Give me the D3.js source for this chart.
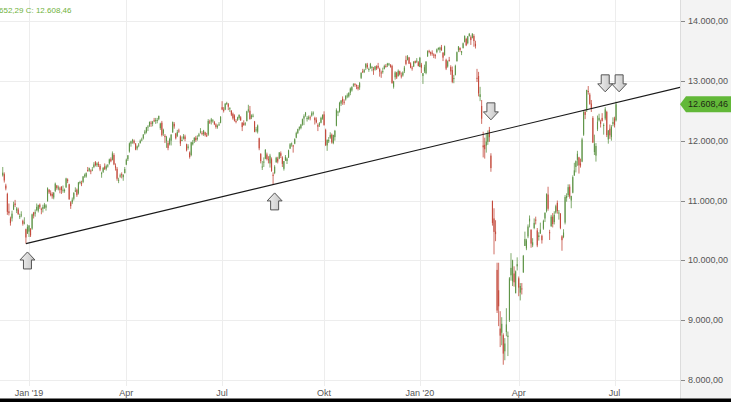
<!DOCTYPE html>
<html><head><meta charset="utf-8">
<script src="https://cdn.jsdelivr.net/npm/d3@7"></script>
<style>html,body{margin:0;padding:0;background:#fff;overflow:hidden}svg{display:block}</style>
</head><body><svg id="c" width="731" height="402"></svg>
<script>
// ---------- data ----------
const firstDay = "2018-12-03";
const lastDomainDay = "2020-09-30";
const holidays = ["2018-12-24","2018-12-25","2018-12-26","2018-12-31","2019-01-01","2019-04-19","2019-04-22","2019-05-01","2019-12-24","2019-12-25","2019-12-26","2019-12-31","2020-01-01","2020-04-10","2020-04-13","2020-05-01"];

const open = [
11420,11440,11250,11110,10820,10700,10700,10850,10950,10830,10850,10720,10760,10660,10620,10520,10450,
10480,10520,10530,10800,10780,10840,10830,10930,10860,10860,10880,10880,10990,11180,11120,11110,11050,11160,11250,11200,11200,11230,
11180,11170,11220,11350,11270,10970,10970,11030,11160,11180,11120,11300,11290,11310,11420,11400,11510,11500,11500,11510,
11560,11640,11590,11610,11580,11440,11480,11570,11530,11580,11620,11690,11680,11760,11580,11530,11330,11400,11440,11390,11460,
11600,11690,11820,11950,11990,12000,11950,11870,11920,11960,12010,12040,12120,12140,12230,12250,12300,12280,12340,12330,
12330,12360,12210,12300,12120,12080,11990,11960,11940,12000,12140,12280,12120,12080,12170,12070,12000,12040,12070,11940,11880,11800,
11760,11940,11990,12050,12040,12080,12140,12130,12110,12140,12090,12100,12320,12320,12330,12310,12270,12230,12270,12300,
12560,12520,12520,12610,12610,12540,12500,12450,12420,12330,12350,12380,12390,12300,12290,12280,12330,12500,12500,12390,12410,12320,12170,
12150,12040,11780,11560,11640,11700,11770,11690,11620,11690,11430,11460,11640,11700,11700,11790,11720,11530,11670,11660,11720,11870,
11940,11920,11950,12050,12130,12200,12210,12270,12370,12420,12360,12370,12390,12420,12460,12380,12350,12260,12260,12300,12370,
12440,12180,11920,11990,12050,12100,11960,12060,12250,12470,12490,12620,12700,12650,12690,12750,12740,12800,12840,12920,12950,12930,12900,
12890,13050,13160,13150,13220,13270,13190,13220,13230,13200,13190,13240,13250,13200,13140,13150,13200,13250,13260,13280,13260,
13250,12900,13060,13140,13080,13160,13090,13090,13160,13350,13350,13390,13290,13220,13240,13330,13320,13310,
13230,13270,13080,13160,13130,13410,13500,13480,13470,13440,13430,13480,13530,13520,13560,13470,13430,13350,13240,13350,13230,13180,
13040,13100,13330,13510,13550,13470,13550,13650,13700,13630,13750,13730,13720,13750,13620,13050,13080,12730,12580,11920,
11930,11920,11980,12180,11750,10990,10700,10480,9840,9500,8860,8790,8750,8480,8800,8720,9000,9750,9650,9780,9450,9900,
9700,9460,9530,9800,10240,10200,10400,10650,10510,10250,10540,10680,10500,10390,10450,10410,10530,10700,10820,11100,
10470,10570,10730,10640,10800,10960,10790,10780,10400,10390,10630,11040,11090,11230,11000,11130,11420,11560,11680,11720,
11620,11650,12100,12480,12510,12830,12770,12620,12380,11810,11750,12190,12340,12320,12380,12250,12370,12480,12020,12200,12060,12280,
12370,12340];
const high = [
11560,11470,11280,11130,10950,10730,10830,10980,11010,10890,10880,10780,10820,10680,10720,10530,10600,
10590,10540,10780,10810,10850,10950,10930,10950,10880,10930,10960,10940,11220,11190,11170,11140,11140,11300,11260,11250,11230,11240,
11250,11200,11380,11370,11280,10990,11050,11140,11220,11200,11310,11330,11330,11410,11450,11470,11560,11550,11520,11560,
11640,11660,11640,11650,11610,11480,11560,11620,11600,11610,11700,11720,11820,11790,11620,11560,11380,11450,11470,11440,11560,
11700,11760,11970,12000,12030,12020,11960,11920,11960,12020,12050,12110,12180,12230,12260,12320,12330,12330,12380,12380,
12380,12420,12300,12330,12200,12110,12080,12000,12050,12110,12320,12310,12130,12180,12200,12090,12070,12110,12100,11950,11940,11820,
11980,12010,12060,12080,12090,12130,12210,12160,12180,12150,12130,12360,12350,12380,12360,12330,12290,12270,12310,12410,
12660,12560,12630,12650,12630,12560,12510,12470,12440,12360,12400,12440,12410,12310,12340,12310,12500,12600,12580,12440,12450,12330,12230,
12270,12050,11790,11660,11720,11860,11800,11740,11780,11720,11470,11590,11730,11730,11810,11820,11740,11660,11760,11720,11850,11960,
11970,11930,12040,12150,12200,12240,12280,12370,12440,12480,12410,12420,12420,12490,12490,12400,12390,12290,12310,12400,12440,
12490,12200,12020,12060,12140,12120,12100,12180,12540,12500,12650,12680,12740,12690,12760,12790,12810,12890,12910,12960,12960,12940,12930,
12980,13140,13200,13200,13290,13300,13220,13300,13250,13230,13250,13260,13300,13220,13170,13220,13270,13280,13300,13300,13280,
13270,13000,13160,13150,13190,13170,13140,13160,13250,13420,13430,13400,13310,13250,13330,13340,13380,13330,
13400,13300,13130,13270,13330,13510,13520,13490,13510,13460,13450,13540,13560,13570,13600,13480,13590,13370,13340,13400,13260,13240,
13100,13270,13490,13580,13560,13500,13640,13760,13720,13750,13800,13760,13795,13780,13670,13200,13150,12900,12680,12150,
12050,12130,12170,12230,11790,11000,10870,10670,9960,9960,9150,9050,8780,8700,9200,8810,9720,10120,10010,9900,9830,10050,
9730,9620,9620,10090,10480,10360,10600,10750,10520,10370,10700,10730,10540,10470,10630,10430,10680,10800,11120,11230,
10510,10760,10790,10820,10930,11000,10840,10790,10420,10520,11090,11120,11270,11270,11080,11420,11630,11670,11830,11730,
11700,12050,12490,12520,12850,12913,12800,12680,12410,12100,11960,12420,12450,12350,12460,12290,12560,12500,12160,12270,12260,12390,
12400,12652];
const low = [
11400,11300,11170,10760,10750,10580,10650,10840,10890,10790,10760,10690,10720,10580,10600,10279,10440,
10390,10390,10510,10700,10730,10820,10800,10860,10770,10800,10860,10830,10980,11110,11070,11030,11020,11140,11180,11170,11120,11110,
11130,11130,11210,11290,11010,10860,10940,11000,11140,11060,11100,11270,11240,11290,11380,11380,11480,11480,11440,11490,
11540,11570,11560,11560,11490,11380,11460,11510,11500,11550,11600,11640,11670,11590,11500,11330,11290,11380,11370,11330,11450,
11590,11660,11800,11900,11950,11940,11840,11840,11890,11950,11990,12020,12100,12120,12160,12230,12230,12240,12310,12280,
12290,12340,12180,12070,12080,11960,11880,11840,11920,11920,12130,12200,12020,12060,12130,11910,11990,12020,11990,11820,11850,11700,
11740,11920,11960,11980,12000,12060,12120,12090,12080,12070,12060,12080,12280,12270,12300,12260,12200,12200,12250,12290,
12510,12470,12510,12600,12510,12480,12410,12350,12320,12290,12330,12350,12330,12160,12250,12250,12320,12470,12350,12360,12390,12140,12140,
12120,11840,11620,11510,11560,11690,11670,11620,11550,11480,11266,11440,11630,11620,11690,11710,11560,11500,11660,11610,11710,11860,
11900,11800,11940,12040,12110,12170,12190,12250,12260,12400,12320,12350,12340,12400,12420,12270,12290,12160,12230,12290,12350,
12250,11910,11830,11960,12030,11950,11940,12000,12240,12410,12470,12580,12600,12600,12670,12710,12720,12760,12820,12900,12900,12860,12840,
12850,13030,13130,13130,13180,13200,13150,13200,13160,13100,13170,13180,13200,13070,13050,13120,13190,13220,13230,13250,13220,
12950,12870,13020,13030,13070,13090,13040,13070,13130,13260,13340,13280,13210,13170,13230,13290,13300,13240,
13230,13130,12948,13130,13110,13400,13460,13420,13420,13380,13370,13460,13510,13470,13500,13330,13420,13180,13220,13320,13100,12960,
12960,13090,13320,13480,13480,13430,13540,13640,13580,13610,13740,13600,13710,13570,13540,12980,12740,12660,12280,11720,
11700,11800,11930,11980,11480,10580,10100,10320,9120,8900,8550,8580,8255,8330,8730,8400,8970,9660,9570,9560,9450,9830,
9400,9330,9430,9790,10240,10170,10370,10550,10210,10220,10520,10600,10220,10330,10440,10280,10510,10640,10800,10830,
10340,10560,10550,10600,10780,10780,10680,10520,10160,10370,10600,10980,11060,11030,10870,11120,11410,11470,11580,11450,
11550,11640,12080,12360,12480,12770,12600,12480,11960,11760,11650,12160,12320,12220,12320,12100,12340,12060,11950,12030,12000,12240,
12220,12320];
const close = [
11465,11335,11200,10811,10788,10622,10780,10931,10924,10866,10772,10740,10766,10611,10634,10382,10559,
10580,10417,10767,10747,10804,10893,10922,10888,10856,10892,10931,10919,11205,11136,11090,11071,11130,11281,11210,11218,11181,11173,
11180,11176,11368,11324,11022,10906,11014,11126,11167,11089,11299,11309,11277,11401,11423,11457,11505,11540,11487,11516,
11602,11592,11620,11588,11518,11458,11543,11524,11572,11587,11686,11657,11788,11603,11549,11364,11346,11419,11428,11428,11526,
11681,11754,11954,11988,12010,11963,11850,11905,11935,11999,12020,12101,12153,12222,12236,12313,12283,12315,12328,12344,
12345,12412,12286,12093,12180,12060,12059,11876,12029,12099,12310,12238,12041,12143,12169,11952,12011,12071,12027,11837,11902,11727,
11972,11971,12045,12009,12045,12105,12155,12115,12169,12096,12086,12331,12309,12355,12340,12275,12228,12245,12271,12399,
12521,12497,12616,12629,12568,12543,12436,12373,12332,12323,12387,12430,12342,12227,12260,12289,12490,12522,12362,12419,12418,12147,12189,
12253,11872,11659,11568,11650,11845,11694,11680,11750,11492,11412,11563,11715,11651,11802,11747,11612,11658,11731,11701,11838,11939,
11953,11911,12025,12126,12192,12226,12268,12359,12410,12468,12381,12390,12389,12457,12468,12342,12307,12234,12288,12381,12428,
12263,11925,12014,12013,12097,11970,12094,12164,12512,12486,12630,12670,12654,12634,12748,12755,12798,12872,12895,12942,12940,12910,12867,
12961,13136,13148,13179,13289,13228,13198,13283,13230,13180,13242,13207,13221,13153,13137,13163,13247,13243,13288,13287,13236,
12965,12989,13140,13055,13167,13106,13071,13141,13221,13283,13407,13287,13222,13212,13319,13300,13337,13249,
13385,13219,13127,13227,13320,13495,13483,13452,13456,13432,13429,13526,13549,13556,13515,13388,13577,13205,13324,13345,13158,12982,
13046,13250,13479,13575,13514,13494,13627,13750,13595,13744,13784,13682,13789,13665,13579,13035,12790,12775,12367,11890,
11857,11985,12128,12060,11542,10625,10475,10438,9161,9232,8742,8939,8441,8610,8929,8741,9700,9874,10000,9633,9815,9936,
9544,9571,9526,10075,10356,10333,10565,10697,10280,10301,10626,10676,10249,10416,10514,10336,10659,10796,11107,10862,
10467,10730,10606,10759,10904,10824,10799,10542,10337,10465,11058,11075,11223,11065,11074,11391,11504,11657,11781,11586,
11586,12021,12487,12431,12848,12820,12615,12530,11970,11949,11911,12315,12382,12281,12331,12262,12523,12093,12177,12089,12232,12311,
12260,12608];

const yTicks = [8000, 9000, 10000, 11000, 12000, 13000, 14000];
const xTickMonths = ["2019-01", "2019-04", "2019-07", "2019-10", "2020-01", "2020-04", "2020-07"];
const xTickLabels = ["Jan '19", "Apr", "Jul", "Okt", "Jan '20", "Apr", "Jul"];
const trendAnchors = [["2018-12-27", 10279], ["2019-08-15", 11266]];
const arrowDates = ["2018-12-28", "2019-08-16", "2020-03-06", "2020-06-23", "2020-07-06"];
const arrowValues = [10140, 11127, 12348, 12816, 12816];
const arrowDirs = ["up", "up", "down", "down", "down"];
const lastHigh = 12652.29, lastClose = 12608.46;

// ---------- trading days ----------
const hol = new Set(holidays);
const days = [];
for (let d = new Date(firstDay + "T00:00:00Z"); d <= new Date(lastDomainDay + "T00:00:00Z"); d.setUTCDate(d.getUTCDate() + 1)) {
  const wd = d.getUTCDay(); const s = d.toISOString().slice(0, 10);
  if (wd !== 0 && wd !== 6 && !hol.has(s)) days.push(s);
}
const idx = s => days.findIndex(d => d >= s);

// ---------- layout ----------
const W = 731, H = 402, plotR = 680;
const svg = d3.select("#c");
const x = d3.scaleLinear().domain([idx("2019-01-02"), idx("2020-07-01")]).range([29, 614.5]);
const y = d3.scaleLinear().domain([8000, 14000]).range([380, 21]);
const fmt = d3.formatLocale({decimal: ",", thousands: ".", grouping: [3], currency: ["", ""]}).format(",.2f");
const font = "'Liberation Sans', Arial, sans-serif";

svg.append("rect").attr("width", W).attr("height", H).attr("fill", "#fff");
svg.append("defs").append("clipPath").attr("id", "pc").append("rect").attr("x", 0).attr("y", 0).attr("width", plotR).attr("height", H);

const grid = svg.append("g");
grid.selectAll("line.h").data(yTicks).join("line")
  .attr("x1", 0).attr("x2", plotR).attr("y1", d => Math.round(y(d)) + 0.5).attr("y2", d => Math.round(y(d)) + 0.5)
  .attr("stroke", "#ededed").attr("stroke-width", 1);
const tickIdx = xTickMonths.map(m => idx(m + "-01"));
grid.selectAll("line.v").data(tickIdx).join("line")
  .attr("x1", d => Math.round(x(d)) + 0.5).attr("x2", d => Math.round(x(d)) + 0.5).attr("y1", 0).attr("y2", 386)
  .attr("stroke", "#ededed").attr("stroke-width", 1);

// candles
const up = "#5f9548", down = "#c44a3c";
const cg = svg.append("g").attr("clip-path", "url(#pc)");
const ids = d3.range(close.length);
cg.selectAll("line.w").data(ids).join("line")
  .attr("x1", i => x(i)).attr("x2", i => x(i))
  .attr("y1", i => y(high[i])).attr("y2", i => y(low[i]))
  .attr("stroke", i => close[i] >= open[i] ? up : down).attr("stroke-width", 0.8);
cg.selectAll("rect.b").data(ids).join("rect")
  .attr("x", i => x(i) - 0.55).attr("width", 1.1)
  .attr("y", i => y(Math.max(open[i], close[i])))
  .attr("height", i => Math.max(1, Math.abs(y(open[i]) - y(close[i]))))
  .attr("fill", i => close[i] >= open[i] ? up : down);

// trend line
const i0 = idx(trendAnchors[0][0]), i1 = idx(trendAnchors[1][0]);
const v0 = trendAnchors[0][1], v1 = trendAnchors[1][1];
const iEnd = x.invert(plotR);
const vEnd = v0 + (v1 - v0) / (i1 - i0) * (iEnd - i0);
cg.append("line").attr("x1", x(i0)).attr("y1", y(v0)).attr("x2", x(iEnd)).attr("y2", y(vEnd))
  .attr("stroke", "#1a1a1a").attr("stroke-width", 1.1);

// arrows
const grad = svg.select("defs").append("linearGradient").attr("id", "ag").attr("x1", 0).attr("x2", 1).attr("y1", 0).attr("y2", 0);
grad.append("stop").attr("offset", "0").attr("stop-color", "#f2f2f2");
grad.append("stop").attr("offset", "1").attr("stop-color", "#c4c4c4");
const ag = svg.append("g");
arrowDates.forEach((dt, k) => {
  const cx = x(idx(dt)), ty = y(arrowValues[k]);
  const s = arrowDirs[k] === "up" ? 1 : -1;
  const hw = 7.5, sw = 4, hh = 8, tot = 17;
  const p = d3.path();
  p.moveTo(cx, ty);
  p.lineTo(cx + hw, ty + s * hh); p.lineTo(cx + sw, ty + s * hh);
  p.lineTo(cx + sw, ty + s * tot); p.lineTo(cx - sw, ty + s * tot);
  p.lineTo(cx - sw, ty + s * hh); p.lineTo(cx - hw, ty + s * hh); p.closePath();
  ag.append("path").attr("d", p.toString()).attr("fill", "url(#ag)").attr("stroke", "#555").attr("stroke-width", 1).attr("stroke-linejoin", "miter");
});

// right axis panel
svg.append("rect").attr("x", plotR).attr("y", 0).attr("width", W - plotR).attr("height", H).attr("fill", "#f3f3f3");
svg.append("line").attr("x1", plotR + 0.5).attr("x2", plotR + 0.5).attr("y1", 0).attr("y2", H).attr("stroke", "#dcdcdc");
const ax = svg.append("g");
ax.selectAll("line").data(yTicks).join("line")
  .attr("x1", 681).attr("x2", 685).attr("y1", d => Math.round(y(d)) + 0.5).attr("y2", d => Math.round(y(d)) + 0.5)
  .attr("stroke", "#888");
ax.selectAll("text").data(yTicks).join("text")
  .attr("x", 688).attr("y", d => y(d)).attr("dy", "0.35em")
  .attr("font-family", font).attr("font-size", 9).attr("fill", "#555").text(d => fmt(d));

// price tag
const py = y(lastClose);
svg.append("path").attr("d", `M${plotR},${py} L${plotR + 6},${py - 8} L${W},${py - 8} L${W},${py + 8} L${plotR + 6},${py + 8} Z`).attr("fill", "#62b838");
svg.append("text").attr("x", 688).attr("y", py).attr("dy", "0.35em").attr("font-family", font).attr("font-size", 9).attr("fill", "#1d2a14").text(fmt(lastClose));

// x labels
svg.append("g").selectAll("text").data(tickIdx).join("text")
  .attr("x", d => x(d)).attr("y", 396).attr("text-anchor", "middle")
  .attr("font-family", font).attr("font-size", 9).attr("fill", "#555").text((d, k) => xTickLabels[k]);

// header text (left part cut off)
svg.append("text").attr("x", -1).attr("y", 13).attr("font-family", font).attr("font-size", 8).attr("fill", "#6fb23c")
  .text(fmt(lastHigh).slice(3) + "  C: " + fmt(lastClose));

// bottom strip
svg.append("rect").attr("x", 0).attr("y", 398.5).attr("width", W).attr("height", 3.5).attr("fill", "#000");
</script></body></html>
